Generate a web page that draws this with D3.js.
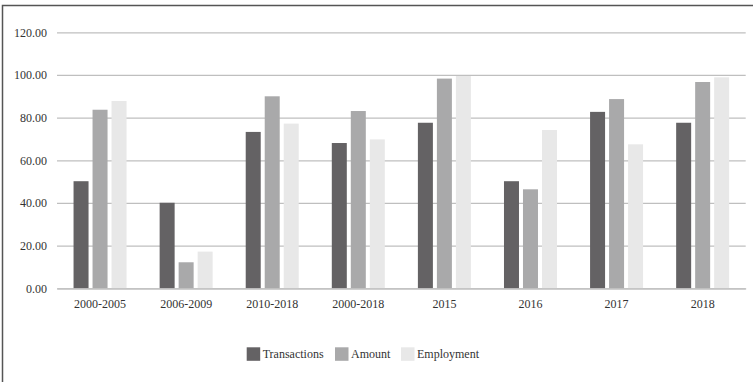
<!DOCTYPE html>
<html>
<head>
<meta charset="utf-8">
<script src="https://cdn.jsdelivr.net/npm/d3@7"></script>
<style>
  html, body { margin: 0; padding: 0; background: #fff; }
  svg { display: block; }
  svg text { font-family: "Liberation Serif", "Times New Roman", serif !important; fill: #333; }
</style>
</head>
<body>
<svg id="chart" width="753" height="382"></svg>
<script>
// Categories (periods / years)
const categories = ["2000-2005", "2006-2009", "2010-2018", "2000-2018", "2015", "2016", "2017", "2018"];
// Series names
const seriesNames = ["Transactions", "Amount", "Employment"];
// Series values, one per category
const transactions = [50.2, 40.1, 73.3, 68.1, 77.6, 50.2, 82.7, 77.6];
const amount       = [83.7, 12.2, 90.0, 83.1, 98.3, 46.4, 88.7, 96.7];
const employment   = [87.8, 17.2, 77.2, 69.8, 99.5, 74.2, 67.5, 98.9];
// Y axis ticks
const yTicks = [0, 20, 40, 60, 80, 100, 120];

const seriesValues = [transactions, amount, employment];
const colors = ["#646264", "#a9a9aa", "#e8e8e8"];
const serif = "Liberation Serif, Times New Roman, serif";

const svg = d3.select("#chart");

// Frame around the figure
svg.append("rect")
  .attr("x", 2.5).attr("y", 5.5)
  .attr("width", 780).attr("height", 420)
  .attr("fill", "none")
  .attr("stroke", "#555")
  .attr("stroke-width", 1.5);

const plotLeft = 57, plotRight = 745.7;
const y = d3.scaleLinear().domain([0, 120]).range([288.3, 32.3]);
const x0 = d3.scaleBand().domain(categories).range([plotLeft, plotRight]).paddingInner(0).paddingOuter(0);
const groupWidth = 53;
const x1 = d3.scaleBand().domain(seriesNames).range([0, groupWidth]).paddingInner(4 / 19).paddingOuter(0);

// Gridlines with tick labels
const yAxis = d3.axisLeft(y)
  .tickValues(yTicks)
  .tickFormat(d3.format(".2f"))
  .tickSize(-(plotRight - plotLeft))
  .tickPadding(10);

const gy = svg.append("g")
  .attr("transform", `translate(${plotLeft},0)`)
  .call(yAxis)
  .attr("font-family", serif)
  .attr("font-size", 12);
gy.select(".domain").remove();
gy.selectAll(".tick line").attr("stroke", "#bfbfbf").attr("stroke-width", 1.2);
gy.selectAll(".tick text").attr("fill", "#333");

// Bars
const groups = svg.append("g").selectAll("g")
  .data(categories)
  .join("g")
  .attr("transform", d => `translate(${x0(d) + (x0.bandwidth() - groupWidth) / 2},0)`);

groups.selectAll("rect")
  .data((d, i) => seriesNames.map((s, k) => ({ s, k, v: seriesValues[k][i] })))
  .join("rect")
  .attr("x", d => x1(d.s))
  .attr("width", x1.bandwidth())
  .attr("y", d => y(d.v))
  .attr("height", d => y(0) - y(d.v))
  .attr("fill", d => colors[d.k]);

// Category axis
const xAxis = d3.axisBottom(x0).tickSize(0).tickPadding(11);
const gx = svg.append("g")
  .attr("transform", `translate(0,${y(0)})`)
  .call(xAxis)
  .attr("font-family", serif)
  .attr("font-size", 12);
gx.select(".domain").attr("stroke", "#bfbfbf").attr("stroke-width", 1.2);
gx.selectAll(".tick text").attr("fill", "#333");

// Legend
const legendX = [246.7, 335, 401];
const legend = svg.append("g")
  .attr("font-family", serif)
  .attr("font-size", 12)
  .selectAll("g")
  .data(seriesNames)
  .join("g")
  .attr("transform", (d, i) => `translate(${legendX[i]},347.3)`);
legend.append("rect")
  .attr("width", 13.5).attr("height", 13.5)
  .attr("fill", (d, i) => colors[i]);
legend.append("text")
  .attr("x", 16).attr("y", 11)
  .text(d => d);
</script>
</body>
</html>
